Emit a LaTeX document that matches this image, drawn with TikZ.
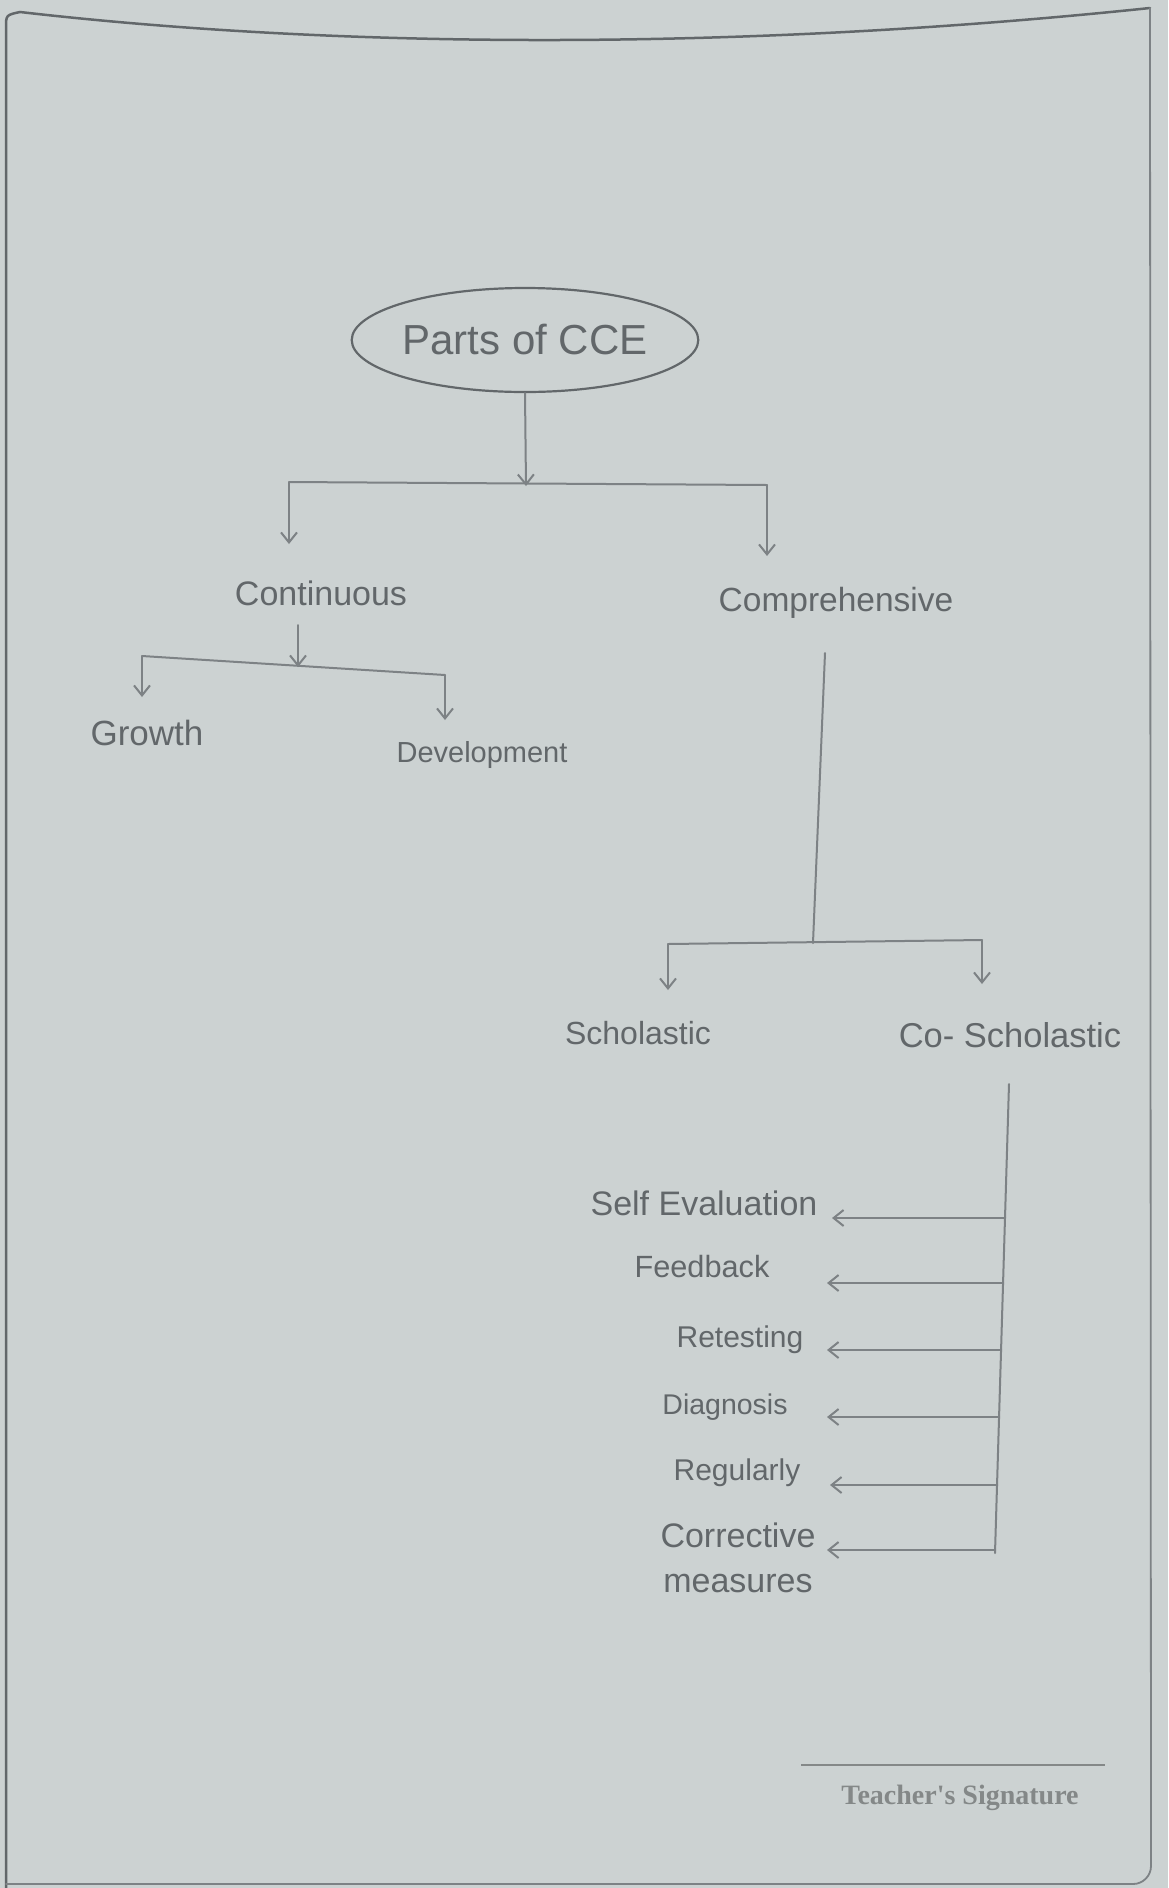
\documentclass[tikz,border=0pt]{standalone}
\usepackage{fontspec}
\setmainfont{Liberation Sans}
\newfontfamily\sigfont{Liberation Serif}
\usetikzlibrary{arrows.meta,shapes.geometric}
\definecolor{paper}{RGB}{204,210,210}
\definecolor{pencil}{RGB}{98,103,106}
\definecolor{pencillight}{RGB}{125,130,133}
\definecolor{printgrey}{RGB}{132,136,136}
\newcommand\fsz[1]{\fontsize{#1}{#1}\selectfont}
\tikzset{
  hand/.style={text=pencil, inner sep=0pt},
  stroke/.style={draw=pencillight, line width=2pt, line cap=round, line join=round},
  arr/.style={stroke, -{Straight Barb[length=10pt,width=16pt,line width=2pt]}},
  frame/.style={draw=pencil, line width=2.5pt, line cap=round},
}
\begin{document}
\begin{tikzpicture}[x=1pt,y=-1pt]
\fill[paper] (0,0) rectangle (1168,1888);
\useasboundingbox (0,0) rectangle (1168,1888);

% page frame
\draw[frame] (6,1888) -- (6,28) .. controls (6,15) .. (20,12)
  .. controls (350,50) and (750,50) .. (1150,8);
\draw[frame, draw=pencillight, line width=1.8pt, rounded corners=18pt]
  (1150,8) -- (1151,1884) -- (6,1884);

% root
\node[draw=pencil, line width=2.2pt, ellipse, minimum width=340pt, minimum height=104pt,
      hand, font=\fsz{42}] (root) at (525,340) {Parts of CCE};

% level 1
\node[hand, font=\fsz{34}] (cont) at (321,593) {Continuous};
\node[hand, font=\fsz{33.5}] (comp) at (836,603) {Comprehensive};

\coordinate (jC) at (526,486);
\coordinate (jL) at (289,482);
\coordinate (jR) at (767,485);
\coordinate (aL) at (289,544);
\coordinate (aR) at (767,556);
\draw[arr] (root.south) -- (jC);
\draw[stroke] (jL) -- (jR);
\draw[arr] (jL) -- (aL);
\draw[arr] (jR) -- (aR);

% continuous subtree
\node[hand, font=\fsz{35}] (growth) at (147,733) {Growth};
\node[hand, font=\fsz{29}] (dev) at (482,755) {Development};
\coordinate (c0) at (298,625);
\coordinate (c1) at (298,667);
\coordinate (cL) at (142,656);
\coordinate (cR) at (445,675);
\coordinate (cLa) at (142,697);
\coordinate (cRa) at (445,720);
\draw[arr] (c0) -- (c1);
\draw[stroke] (cL) -- (cR);
\draw[arr] (cL) -- (cLa);
\draw[arr] (cR) -- (cRa);

% comprehensive subtree
\node[hand, font=\fsz{32}] (schol) at (638,1033) {Scholastic};
\node[hand, font=\fsz{34.5}] (cosch) at (1010,1035) {Co- Scholastic};
\coordinate (m0) at (825,653);
\coordinate (m1) at (813,943);
\coordinate (mL) at (668,944);
\coordinate (mR) at (982,940);
\coordinate (mLa) at (668,990);
\coordinate (mRa) at (982,984);
\draw[stroke] (m0) -- (m1);
\draw[stroke] (mL) -- (mR);
\draw[arr] (mL) -- (mLa);
\draw[arr] (mR) -- (mRa);

% co-scholastic list
\node[hand, font=\fsz{34}] (self) at (704,1203) {Self Evaluation};
\node[hand, font=\fsz{30.7}] (feed) at (702,1267) {Feedback};
\node[hand, font=\fsz{30}] (retest) at (740,1340) {Retesting};
\node[hand, font=\fsz{28.5}] (diag) at (725,1407) {Diagnosis};
\node[hand, font=\fsz{30}] (reg) at (737,1473) {Regularly};
\node[hand, font=\fontsize{34}{45}\selectfont, align=center] (corr) at (738,1558) {Corrective\\measures};

\coordinate (v0) at (1009,1084);
\coordinate (v1) at (995,1553);
\draw[stroke] (v0) -- (v1);
\coordinate (s1) at (1005,1218);
\coordinate (s2) at (1003,1283);
\coordinate (s3) at (1001,1350);
\coordinate (s4) at (999,1417);
\coordinate (s5) at (997,1485);
\coordinate (s6) at (995,1550);
\coordinate (t1) at (832,1218);
\coordinate (t2) at (827,1283);
\coordinate (t3) at (827,1350);
\coordinate (t4) at (827,1417);
\coordinate (t5) at (830,1485);
\coordinate (t6) at (827,1550);
\draw[arr] (s1) -- (t1);
\draw[arr] (s2) -- (t2);
\draw[arr] (s3) -- (t3);
\draw[arr] (s4) -- (t4);
\draw[arr] (s5) -- (t5);
\draw[arr] (s6) -- (t6);

% signature
\coordinate (sigL) at (801,1765);
\coordinate (sigR) at (1105,1765);
\draw[draw=printgrey, line width=2pt] (sigL) -- (sigR);
\node[inner sep=0pt, text=printgrey, font=\sigfont\bfseries\fsz{28}] (sig) at (960,1798) {Teacher's Signature};
\end{tikzpicture}
\end{document}
